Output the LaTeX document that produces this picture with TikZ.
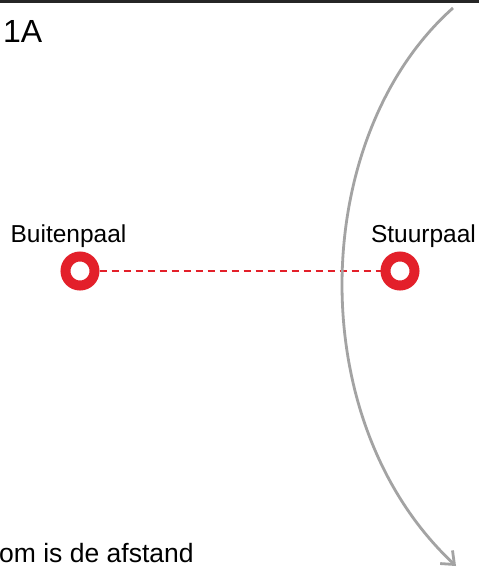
\documentclass[tikz,border=0pt]{standalone}
\usepackage{fontspec}
\setmainfont{Liberation Sans}
\usetikzlibrary{arrows.meta}
\definecolor{paalred}{HTML}{E3202A}
\definecolor{arcgray}{HTML}{A3A3A3}
\tikzset{
  ring/.style={circle, draw=paalred, line width=10pt, minimum size=29pt, inner sep=0pt},
  lbl/.style={font=\fontsize{24.5}{28}\selectfont, inner sep=0pt},
  afstand/.style={draw=paalred, line width=1.3pt, dash pattern=on 7.5pt off 4.5pt},
  koers/.style={draw=arcgray, line width=2.8pt, -{Straight Barb[length=11pt,width=18pt,line width=2.8pt]}}
}
\begin{document}
\begin{tikzpicture}[x=1pt,y=-1pt]
\useasboundingbox (0,0) rectangle (479,571);
\fill[white] (0,0) rectangle (479,571);
\coordinate (tl) at (0,1.5);
\coordinate (tr) at (479,1.5);
\draw[line width=2.5pt, black!85] (tl) -- (tr);
\node[anchor=base west, inner sep=0pt, font=\fontsize{32}{36}\selectfont] (titel) at (3,42) {1A};
\node[ring] (buiten) at (80,271) {};
\node[ring] (stuur) at (400,271) {};
\node[lbl, anchor=base] (lbuiten) at (68.5,242) {Buitenpaal};
\node[lbl, anchor=base] (lstuur) at (423.5,242) {Stuurpaal};
\draw[afstand] (buiten) -- (stuur);
\coordinate (ks) at (453,8);
\coordinate (ke) at (456,566);
\draw[koers] (ks) .. controls (310,135) and (300,420) .. (ke);
\begin{scope}
\clip (0,0) rectangle (479,571);
\node[anchor=base west, inner sep=0pt, font=\fontsize{26.5}{30}\selectfont] (tekst) at (-1,562) {om is de afstand};
\end{scope}
\end{tikzpicture}
\end{document}
